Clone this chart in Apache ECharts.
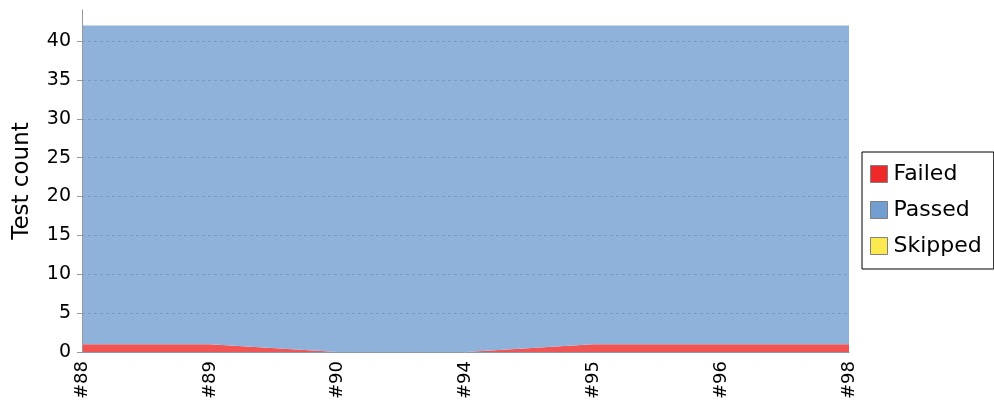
<!DOCTYPE html>
<html>
<head>
<meta charset="utf-8">
<script src="https://cdn.jsdelivr.net/npm/echarts@6/dist/echarts.min.js"></script>
<style>
  html, body { margin: 0; padding: 0; background: #fff; }
  #chart { width: 994px; height: 402px; }
</style>
</head>
<body>
<div id="chart"></div>
<script>
// builds on the x axis
const builds = ['#88', '#89', '#90', '#94', '#95', '#96', '#98']
// stacked counts, bottom to top
const failed = [1, 1, 0, 0, 1, 1, 1]
const passed = [41, 41, 42, 42, 41, 41, 41]
const skipped = [0, 0, 0, 0, 0, 0, 0]

const chart = echarts.init(document.getElementById('chart'))

function area(name, data, color, fill) {
  return {
    name: name,
    type: 'line',
    stack: 'tests',
    data: data,
    showSymbol: false,
    symbol: 'none',
    lineStyle: { width: 0 },
    itemStyle: { color: color },
    areaStyle: { color: fill, opacity: 1 },
    animation: false
  }
}

chart.setOption({
  textStyle: { fontFamily: 'DejaVu Sans' },
  grid: { left: 82, right: 145, top: 10, bottom: 49 },
  legend: {
    orient: 'vertical',
    left: 862,
    top: 152,
    padding: [11, 12, 12, 8],
    borderColor: '#000',
    borderWidth: 1,
    itemWidth: 17,
    itemHeight: 17,
    itemGap: 14,
    icon: 'rect',
    itemStyle: { borderColor: '#808080', borderWidth: 1 },
    textStyle: { fontSize: 22, color: '#000', padding: [0, 0, 0, 1] },
    data: ['Failed', 'Passed', 'Skipped']
  },
  xAxis: {
    type: 'category',
    data: builds,
    boundaryGap: false,
    axisLine: { lineStyle: { color: '#999' } },
    axisTick: { show: false },
    axisLabel: { rotate: 90, color: '#000', fontSize: 18, margin: 9 }
  },
  yAxis: {
    type: 'value',
    min: 0,
    max: 44,
    interval: 5,
    zlevel: 1,
    name: 'Test count',
    nameLocation: 'middle',
    nameGap: 48,
    nameTextStyle: { fontSize: 23, color: '#000' },
    axisLine: { show: true, lineStyle: { color: '#999' } },
    axisTick: { show: true, length: 5, lineStyle: { color: '#999' } },
    axisLabel: { color: '#000', fontSize: 19, margin: 11, showMaxLabel: false },
    splitLine: { showMaxLine: false, lineStyle: { color: '#7a98c2', type: [3, 3], width: 1 } }
  },
  series: [
    area('Failed', failed, '#ef2929', '#f25454'),
    area('Passed', passed, '#729fcf', '#8eb2d9'),
    area('Skipped', skipped, '#fce94f', '#fdee72')
  ]
})
</script>
</body>
</html>
